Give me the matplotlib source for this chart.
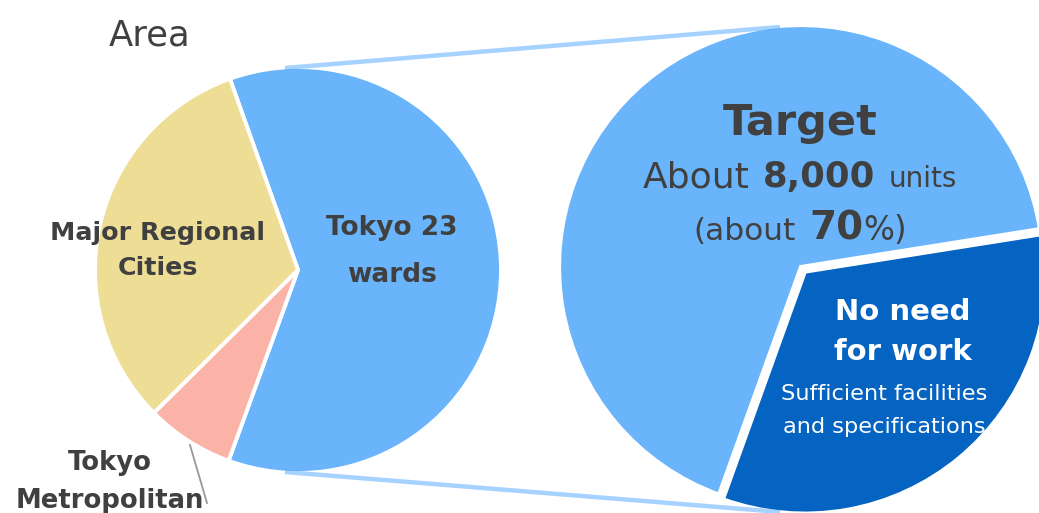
import matplotlib
matplotlib.use("Agg")
import matplotlib.pyplot as plt

# ---------------- data ----------------
area_labels = ["Tokyo 23\nwards", "Major Regional\nCities", "Tokyo\nMetropolitan"]
area_shares = [61, 32, 7]
area_colors = ["#69B4FA", "#EDDD95", "#FAB3A6"]

target_labels = ["Target", "No need\nfor work"]
target_shares = [67, 33]
target_colors = ["#69B4FA", "#0563C1"]
target_units = "8,000"
target_pct = "70"
no_need_note = "Sufficient facilities\nand specifications"
title = "Area"

TXT = "#404040"
W, H = 1039, 513

fig = plt.figure(figsize=(W / 100, H / 100), dpi=100)
ax = fig.add_axes([0, 0, 1, 1])


def py(y):
    """pixel-from-top to data y"""
    return H - y


# connecting lines (drawn first)
for (x0, y0), (x1, y1) in [((285, 68), (780, 27)), ((285, 472), (780, 512))]:
    ax.plot([x0, x1], [py(y0), py(y1)], color="#4DA6FF", alpha=0.5, lw=3.2,
            solid_capstyle="butt", zorder=3)

# left pie
ax.pie(area_shares, colors=area_colors, startangle=-110, counterclock=True,
       center=(298, py(270)), radius=203, frame=True,
       wedgeprops=dict(edgecolor="white", linewidth=2.8))

# right pie (explode is in data units = pixels here)
ax.pie(target_shares, colors=target_colors, startangle=9, counterclock=True,
       center=(801, py(267)), radius=242, frame=True, explode=[0, 6],
       wedgeprops=dict(edgecolor="white", linewidth=3))

ax.set_xlim(0, W)
ax.set_ylim(0, H)
ax.set_aspect("auto")
ax.axis("off")


def lines_text(text, cx, baselines, size, weight="bold", color=TXT):
    for line, b in zip(text.split("\n"), baselines):
        ax.text(cx, py(b), line, ha="center", va="baseline", fontsize=size,
                fontweight=weight, color=color, zorder=5)


# title
ax.text(150, py(46), title, ha="center", va="baseline", fontsize=25.5, color=TXT)

# left labels
lines_text(area_labels[0], 392, [235, 282], 19)
lines_text(area_labels[1], 158, [240, 275], 18.3)
lines_text(area_labels[2], 110, [470, 508], 18.6)
ax.plot([190, 207], [py(445), py(503)], color="#999999", lw=1.3, zorder=5)

# right labels
lines_text(target_labels[0], 800, [135], 31)
lines_text(target_labels[1], 903, [320, 360], 21, color="white")
lines_text(no_need_note, 884, [400, 433], 16.2, weight="normal", color="white")

renderer = fig.canvas.get_renderer()


def rich_line(parts, cx, baseline, gaps):
    texts = []
    for s, size, wt in parts:
        t = ax.text(0, py(baseline), s, ha="left", va="baseline", fontsize=size,
                    fontweight=wt, color=TXT, zorder=5)
        texts.append(t)
    widths = [t.get_window_extent(renderer).width for t in texts]
    total = sum(widths) + sum(gaps)
    x = cx - total / 2
    for i, t in enumerate(texts):
        t.set_x(x)
        x += widths[i] + (gaps[i] if i < len(gaps) else 0)


rich_line([("About", 26, "normal"), (target_units, 25.5, "bold"), ("units", 20, "normal")],
          800, 187, [13, 13])
rich_line([("(about", 22.5, "normal"), (target_pct, 28, "bold"), ("%)", 23.5, "normal")],
          800, 240, [14, 0])

fig.savefig("out.png", dpi=100)
